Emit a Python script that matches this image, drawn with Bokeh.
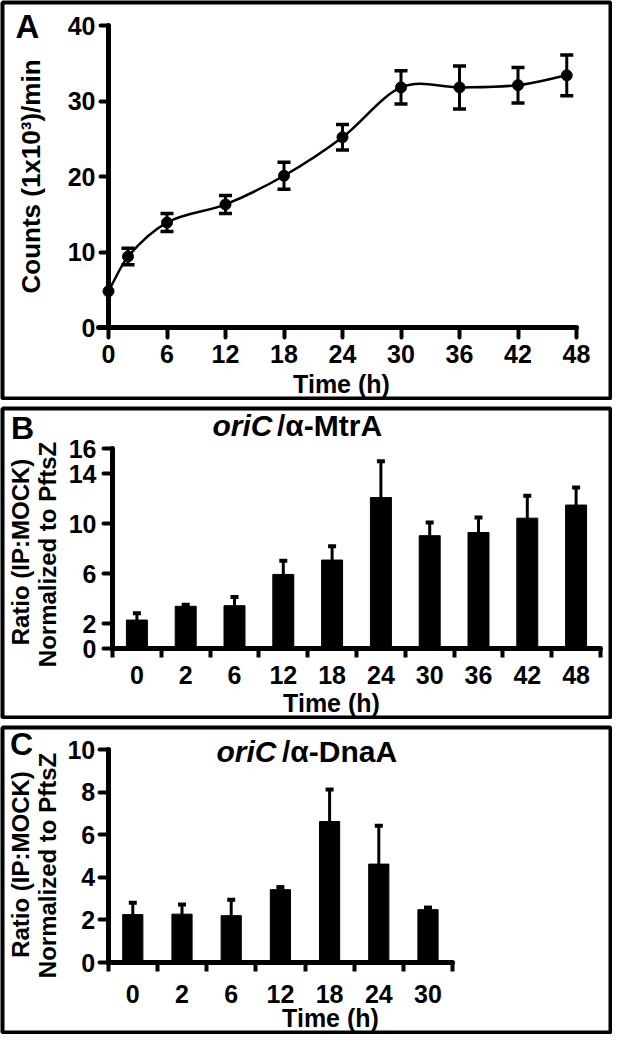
import numpy as np
from bokeh.plotting import figure
from bokeh.models import (Range1d, FixedTicker, Whisker, TeeHead, ColumnDataSource,
                          Label, AllLabels)
from bokeh.layouts import column
from bokeh.embed import file_html
from bokeh.resources import INLINE

# ---------------- data ----------------
a_time = [0, 2, 6, 12, 18, 24, 30, 36, 42, 47]
a_counts = [4.8, 9.4, 13.9, 16.3, 20.1, 25.2, 31.8, 31.8, 32.1, 33.4]
a_err = [0.0, 1.1, 1.2, 1.2, 1.8, 1.7, 2.2, 2.85, 2.35, 2.7]
a_xticks = [0, 6, 12, 18, 24, 30, 36, 42, 48]
a_yticks = [0, 10, 20, 30, 40]

b_labels = ["0", "2", "6", "12", "18", "24", "30", "36", "42", "48"]
b_vals = [2.3, 3.4, 3.45, 5.95, 7.1, 12.1, 9.05, 9.3, 10.45, 11.5]
b_err = [0.55, 0.12, 0.7, 1.1, 1.1, 2.9, 1.05, 1.2, 1.8, 1.4]
b_yticks = [0, 2, 6, 10, 14, 16]

c_labels = ["0", "2", "6", "12", "18", "24", "30"]
c_vals = [2.25, 2.27, 2.2, 3.42, 6.62, 4.62, 2.48]
c_err = [0.55, 0.45, 0.75, 0.12, 1.5, 1.8, 0.1]
c_yticks = [0, 2, 4, 6, 8, 10]

FONT = "Liberation Sans"
W = 612
B = 2  # frame inset (outline = panel box)


def make_fig(H, ox, oy, kx, ky):
    xr = Range1d((B - ox) / kx, (W - B - ox) / kx)
    yr = Range1d((oy - (H - B)) / ky, (oy - B) / ky)
    p = figure(width=W, height=H, x_range=xr, y_range=yr, title=None,
               toolbar_location=None, output_backend="svg", min_border=B)
    p.xgrid.grid_line_color = None
    p.ygrid.grid_line_color = None
    p.outline_line_color = "black"
    p.outline_line_width = 4
    p.background_fill_color = "white"
    p.border_fill_color = "white"
    p._geom = (ox, oy, kx, ky)
    return p


def style_axis(ax, ticks, bounds, tick_out, standoff, minor=None,
               overrides=None, hide_major=False):
    ax.fixed_location = 0
    ax.bounds = bounds
    ax.ticker = FixedTicker(ticks=ticks, minor_ticks=minor or [])
    ax.axis_line_width = 5
    ax.axis_line_color = "black"
    ax.axis_line_cap = "round"
    ax.major_tick_in = 0
    ax.major_tick_out = tick_out
    ax.major_tick_line_width = 4
    ax.major_tick_line_cap = "round"
    ax.major_tick_line_color = None if hide_major else "black"
    ax.minor_tick_in = 0
    ax.minor_tick_out = tick_out if minor else 0
    ax.minor_tick_line_width = 4
    ax.minor_tick_line_color = "black" if minor else None
    ax.major_label_text_font = FONT
    ax.major_label_text_font_size = "25px"
    ax.major_label_text_font_style = "bold"
    ax.major_label_text_color = "black"
    ax.major_label_standoff = standoff
    ax.major_label_policy = AllLabels()
    if overrides:
        ax.major_label_overrides = overrides


def txt(p, cx, cy, text, size, style="bold", align="center", angle=0.0):
    ox, oy, kx, ky = p._geom
    p.add_layout(Label(x=(cx - ox) / kx, y=(oy - cy) / ky, text=text,
                       text_font=FONT, text_font_size=f"{size}px",
                       text_font_style=style, text_align=align,
                       text_baseline="middle", angle=angle, text_color="black"))


# ---------------- panel A ----------------
pa = make_fig(400, 108, 327, 9.75, 7.55)
t = np.array(a_time, float)
v = np.array(a_counts, float)
m = np.zeros_like(v)
m[1:-1] = (v[2:] - v[:-2]) / (t[2:] - t[:-2])
m[0] = (v[1] - v[0]) / (t[1] - t[0])
m[-1] = (v[-1] - v[-2]) / (t[-1] - t[-2])
dt = np.diff(t)
pa.bezier(x0=t[:-1], y0=v[:-1], x1=t[1:], y1=v[1:],
          cx0=t[:-1] + dt / 3, cy0=v[:-1] + m[:-1] * dt / 3,
          cx1=t[1:] - dt / 3, cy1=v[1:] - m[1:] * dt / 3,
          line_color="black", line_width=2.5)
ea = [(ti, vi, ei) for ti, vi, ei in zip(a_time, a_counts, a_err) if ei > 0]
src_a = ColumnDataSource(dict(t=[e[0] for e in ea],
                              lo=[e[1] - e[2] for e in ea],
                              hi=[e[1] + e[2] for e in ea]))
pa.add_layout(Whisker(source=src_a, base="t", lower="lo", upper="hi",
                      line_width=3, line_color="black",
                      upper_head=TeeHead(size=13, line_width=3.5, line_color="black"),
                      lower_head=TeeHead(size=13, line_width=3.5, line_color="black"),
                      level="overlay"))
pa.scatter(a_time, a_counts, marker="circle", size=11, color="black")
style_axis(pa.xaxis[0], a_xticks, (-1, 48), 10, 7)
style_axis(pa.yaxis[0], a_yticks, (0, 40), 8, 5)
txt(pa, 27, 26, "A", 33)
txt(pa, 30, 176, "Counts (1x10³)/min", 26, angle=np.pi / 2)
txt(pa, 341, 383, "Time (h)", 25)

# ---------------- panel B ----------------
pb = make_fig(313, 112, 242.3, 48.8, 12.5)
bx = [i + 0.5 for i in range(len(b_vals))]
pb.vbar(x=bx, top=b_vals, width=0.43, bottom=0, color="black")
src_b = ColumnDataSource(dict(x=bx, lo=b_vals,
                              hi=[a + b for a, b in zip(b_vals, b_err)]))
pb.add_layout(Whisker(source=src_b, base="x", lower="lo", upper="hi",
                      line_width=3, line_color="black",
                      upper_head=TeeHead(size=8, line_width=4, line_color="black"),
                      lower_head=None))
style_axis(pb.xaxis[0], bx, (0, len(b_vals)), 9, 8,
           minor=list(range(len(b_vals) + 1)),
           overrides={x: l for x, l in zip(bx, b_labels)}, hide_major=True)
style_axis(pb.yaxis[0], b_yticks, (0, 16), 9, 7)
txt(pb, 22, 21, "B", 32)
txt(pb, 272, 19, "oriC", 30, style="bold italic", align="right")
txt(pb, 276.5, 19, "/α-MtrA", 30, align="left")
txt(pb, 20, 145.5, "Ratio (IP:MOCK)", 24, angle=np.pi / 2)
txt(pb, 46.5, 148, "Normalized to PftsZ", 24, angle=np.pi / 2)
txt(pb, 331, 296, "Time (h)", 25)

# ---------------- panel C ----------------
pc = make_fig(309, 107.7, 237, 49.2, 21.3)
cx = [i + 0.5 for i in range(len(c_vals))]
pc.vbar(x=cx, top=c_vals, width=0.41, bottom=0, color="black")
src_c = ColumnDataSource(dict(x=cx, lo=c_vals,
                              hi=[a + b for a, b in zip(c_vals, c_err)]))
pc.add_layout(Whisker(source=src_c, base="x", lower="lo", upper="hi",
                      line_width=3, line_color="black",
                      upper_head=TeeHead(size=8, line_width=4, line_color="black"),
                      lower_head=None))
style_axis(pc.xaxis[0], cx, (0, len(c_vals)), 9, 13,
           minor=list(range(len(c_vals) + 1)),
           overrides={x: l for x, l in zip(cx, c_labels)}, hide_major=True)
style_axis(pc.yaxis[0], c_yticks, (0, 10), 9, 4)
txt(pc, 21, 18, "C", 32)
txt(pc, 276, 26, "oriC", 30, style="bold italic", align="right")
txt(pc, 281.5, 26, "/α-DnaA", 30, align="left")
txt(pc, 20, 139, "Ratio (IP:MOCK)", 24, angle=np.pi / 2)
txt(pc, 46.5, 140, "Normalized to PftsZ", 24, angle=np.pi / 2)
txt(pc, 330, 292, "Time (h)", 25)

layout = column(pa, pb, pc, spacing=6)
open("out.html", "w").write(file_html(layout, INLINE))
